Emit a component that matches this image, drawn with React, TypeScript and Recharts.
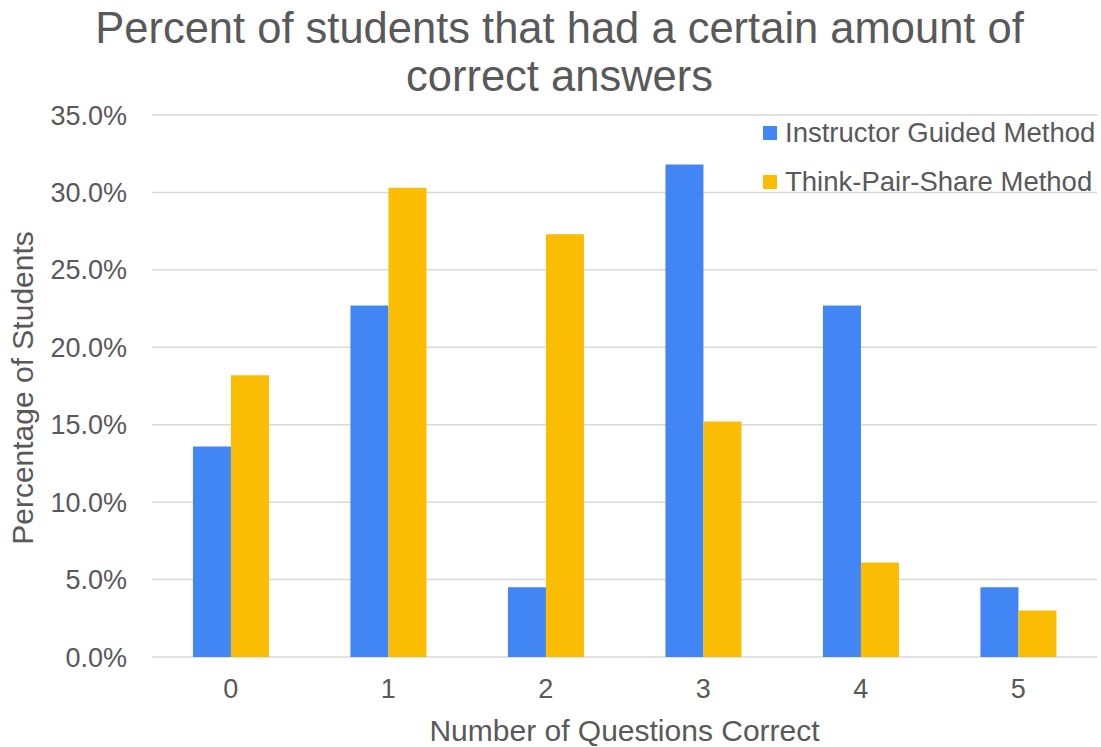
import React from 'react';
import { BarChart, Bar, XAxis, YAxis, CartesianGrid, Legend, Label } from 'recharts';

// Number of questions answered correctly
const questionCounts = ['0', '1', '2', '3', '4', '5'];

// Percentage of students per group
const instructorGuided = [13.6, 22.7, 4.5, 31.8, 22.7, 4.5];
const thinkPairShare = [18.2, 30.3, 27.3, 15.2, 6.1, 3.0];

const yTicks = [0, 5, 10, 15, 20, 25, 30, 35];

const seriesNames = ['Instructor Guided Method', 'Think-Pair-Share Method'];
const seriesColors = ['#4285F4', '#FBBC04'];

const data = questionCounts.map((q, i) => ({
  q,
  guided: instructorGuided[i],
  tps: thinkPairShare[i],
}));

const FONT = '"Liberation Sans", Arial, sans-serif';
const TEXT = '#595959';

const renderLegend = () => (
  <div style={{ fontFamily: FONT, fontSize: 27.5, color: TEXT }}>
    {seriesNames.map((name, i) => (
      <div key={name} style={{ height: 49, display: 'flex', alignItems: 'center', whiteSpace: 'nowrap' }}>
        <span style={{ width: 14, height: 14, background: seriesColors[i], marginRight: 8, display: 'inline-block' }} />
        <span>{name}</span>
      </div>
    ))}
  </div>
);

const YTitle = (props: any) => {
  const vb = props.viewBox || { x: 0, y: 115, height: 542 };
  const x = vb.x + 33;
  const y = vb.y + vb.height / 2 + 2;
  return (
    <text
      x={x}
      y={y}
      transform={`rotate(-90 ${x} ${y})`}
      textAnchor="middle"
      fill={TEXT}
      style={{ fontFamily: FONT, fontSize: 30 }}
    >
      Percentage of Students
    </text>
  );
};

export default function App() {
  return (
    <div style={{ position: 'absolute', left: 0, top: 0, width: 1101, height: 747, background: '#fff' }}>
      <div
        style={{
          position: 'absolute',
          left: 0,
          top: 4,
          width: 1119,
          textAlign: 'center',
          fontFamily: FONT,
          fontSize: 43.5,
          lineHeight: '48px',
          color: TEXT,
        }}
      >
        Percent of students that had a certain amount of
        <br />
        correct answers
      </div>
      <BarChart
        width={1101}
        height={747}
        data={data}
        margin={{ top: 115, right: 4, bottom: 0, left: 0 }}
        barCategoryGap="26%"
        barGap={0}
      >
        <CartesianGrid vertical={false} stroke="#d9d9d9" strokeWidth={1.5} />
        <XAxis
          dataKey="q"
          height={90}
          axisLine={false}
          tickLine={false}
          tickSize={0}
          tickMargin={22}
          tick={{ fill: TEXT, fontSize: 27, fontFamily: FONT }}
        >
          <Label
            value="Number of Questions Correct"
            position="insideBottom"
            offset={6}
            fill={TEXT}
            style={{ fontFamily: FONT, fontSize: 30 }}
          />
        </XAxis>
        <YAxis
          width={152}
          domain={[0, 35]}
          ticks={yTicks}
          axisLine={false}
          tickLine={false}
          tickSize={0}
          tickMargin={25}
          tickFormatter={(v: number) => `${v.toFixed(1)}%`}
          tick={{ fill: TEXT, fontSize: 27, fontFamily: FONT }}
        >
          <Label content={<YTitle />} />
        </YAxis>
        <Legend
          layout="vertical"
          align="center"
          verticalAlign="middle"
          content={renderLegend}
          wrapperStyle={{ position: 'absolute', left: 763, top: 108.5, width: 340, right: 'auto', bottom: 'auto' }}
        />
        <Bar dataKey="guided" name={seriesNames[0]} fill={seriesColors[0]} isAnimationActive={false} />
        <Bar dataKey="tps" name={seriesNames[1]} fill={seriesColors[1]} isAnimationActive={false} />
      </BarChart>
    </div>
  );
}
